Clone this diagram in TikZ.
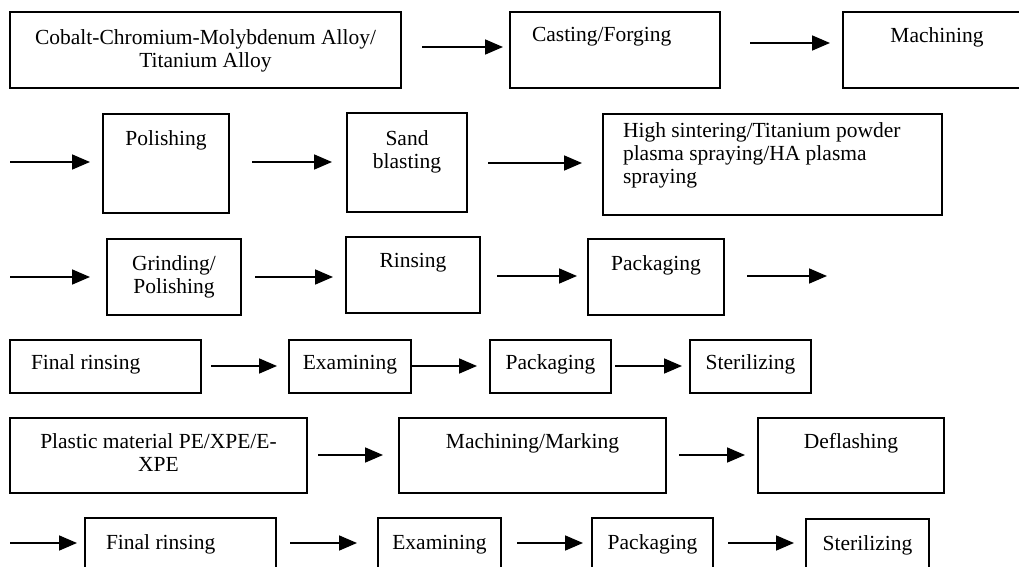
\documentclass[tikz,border=0pt]{standalone}
\usepackage{fontspec}
\setmainfont{Liberation Serif}
\usetikzlibrary{arrows.meta}
\newcommand\boxtxt[5]{\parbox[t][#2pt][t]{#1pt}{#3\rule{0pt}{#4pt}#5}}
\newcommand\lft[1]{\raggedright\leftskip=#1pt\relax}
\tikzset{
  bx/.style={draw, line width=1.6pt, inner sep=0pt, outer sep=0pt, anchor=north west,
             font=\fontsize{21.5}{23}\selectfont},
  arr/.style={line width=1.7pt, -{Triangle[length=18pt,width=15pt]}}
}
\begin{document}
\begin{tikzpicture}[x=1pt,y=-1pt]
\useasboundingbox (0,0) rectangle (1019,567);
\clip (0,0) rectangle (1019,567);
% row 1
\node[bx] (b1) at (10,12) {\boxtxt{391}{76}{\centering}{33}{Cobalt-Chromium-Molybdenum Alloy/\\Titanium Alloy}};
\node[bx] (b2) at (510,12) {\boxtxt{210}{76}{\lft{22}}{30}{Casting/Forging}};
\node[bx] (b3) at (843,12) {\boxtxt{188}{76}{\centering}{31}{Machining}};
% row 2
\coordinate (c1) at (10,162);
\node[bx] (p1) at (103,114) {\boxtxt{126}{99}{\centering}{31}{Polishing}};
\node[bx] (p2) at (347,113) {\boxtxt{120}{99}{\centering}{32}{Sand\\blasting}};
\node[bx] (p3) at (603,114) {\boxtxt{339}{101}{\lft{20}}{24}{High sintering/Titanium powder\\plasma spraying/HA plasma\\spraying}};
% row 3
\coordinate (c2) at (10,277);
\node[bx] (g1) at (107,239) {\boxtxt{134}{76}{\centering}{31}{Grinding/\\Polishing}};
\node[bx] (g2) at (346,237) {\boxtxt{134}{76}{\centering}{30}{Rinsing}};
\node[bx] (g3) at (588,239) {\boxtxt{136}{76}{\centering}{31}{Packaging}};
\coordinate (c3) at (827,276);
% row 4
\node[bx] (f1) at (10,340) {\boxtxt{191}{53}{\lft{21}}{29}{Final rinsing}};
\node[bx] (f2) at (289,340) {\boxtxt{122}{53}{\centering}{29}{Examining}};
\node[bx] (f3) at (490,340) {\boxtxt{121}{53}{\centering}{29}{Packaging}};
\node[bx] (f4) at (690,340) {\boxtxt{121}{53}{\centering}{29}{Sterilizing}};
% row 5
\node[bx] (m1) at (10,418) {\boxtxt{297}{75}{\centering}{30}{Plastic material PE/XPE/E-\\XPE}};
\node[bx] (m2) at (399,418) {\boxtxt{267}{75}{\centering}{30}{Machining/Marking}};
\node[bx] (m3) at (758,418) {\boxtxt{186}{75}{\centering}{30}{Deflashing}};
% row 6
\coordinate (c4) at (10,543);
\node[bx] (s1) at (85,518) {\boxtxt{191}{82}{\lft{21}}{31}{Final rinsing}};
\node[bx] (s2) at (378,518) {\boxtxt{123}{82}{\centering}{31}{Examining}};
\node[bx] (s3) at (592,518) {\boxtxt{121}{82}{\centering}{31}{Packaging}};
\node[bx] (s4) at (806,519) {\boxtxt{123}{82}{\centering}{31}{Sterilizing}};
% arrows
\draw[arr, shorten <=21pt, shorten >=7pt] (b1.east |- 0,47) -- (b2.west |- 0,47);
\draw[arr, shorten <=30pt, shorten >=13pt] (b2.east |- 0,43) -- (b3.west |- 0,43);
\draw[arr, shorten >=13pt] (c1) -- (p1.west |- c1);
\draw[arr, shorten <=23pt, shorten >=15pt] (p1.east |- 0,162) -- (p2.west |- 0,162);
\draw[arr, shorten <=21pt, shorten >=21pt] (p2.east |- 0,163) -- (p3.west |- 0,163);
\draw[arr, shorten >=17pt] (c2) -- (g1.west |- c2);
\draw[arr, shorten <=14pt, shorten >=13pt] (g1.east |- 0,277) -- (g2.west |- 0,277);
\draw[arr, shorten <=17pt, shorten >=11pt] (g2.east |- 0,276) -- (g3.west |- 0,276);
\draw[arr, shorten <=23pt] (g3.east |- c3) -- (c3);
\draw[arr, shorten <=10pt, shorten >=12pt] (f1.east |- 0,366) -- (f2.west |- 0,366);
\draw[arr, shorten >=13pt] (f2.east |- 0,366) -- (f3.west |- 0,366);
\draw[arr, shorten <=4pt, shorten >=8pt] (f3.east |- 0,366) -- (f4.west |- 0,366);
\draw[arr, shorten <=11pt, shorten >=16pt] (m1.east |- 0,455) -- (m2.west |- 0,455);
\draw[arr, shorten <=13pt, shorten >=13pt] (m2.east |- 0,455) -- (m3.west |- 0,455);
\draw[arr, shorten >=8pt] (c4) -- (s1.west |- c4);
\draw[arr, shorten <=14pt, shorten >=21pt] (s1.east |- 0,543) -- (s2.west |- 0,543);
\draw[arr, shorten <=16pt, shorten >=9pt] (s2.east |- 0,543) -- (s3.west |- 0,543);
\draw[arr, shorten <=15pt, shorten >=12pt] (s3.east |- 0,543) -- (s4.west |- 0,543);
\end{tikzpicture}
\end{document}
